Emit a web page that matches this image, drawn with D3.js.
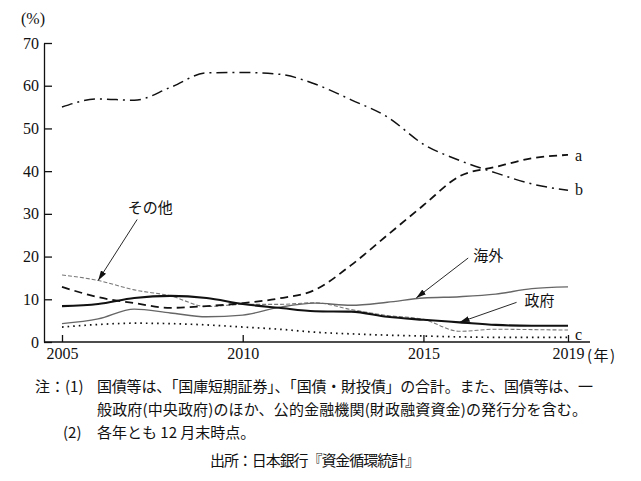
<!DOCTYPE html>
<html lang="ja">
<head>
<meta charset="UTF-8">
<title>国債等の保有者別構成比</title>
<script src="https://d3js.org/d3.v7.min.js"></script>
<style>
  body { margin: 0; background: #fff; }
  .num { font-family: "Liberation Serif", "DejaVu Serif", serif; font-size: 16px; fill: #111; }
  .jp { font-family: "Noto Sans CJK JP", sans-serif; font-size: 15px; fill: #111; }
  .axis path, .axis line { stroke: #111; stroke-width: 1.3; }
</style>
</head>
<body>
<script>

// data (% share)
var years   = [2005, 2006, 2007, 2008, 2009, 2010, 2011, 2012, 2013, 2014, 2015, 2016, 2017, 2018, 2019];
var seriesA = [12.9, 10.5, 9.1, 8.0, 8.4, 9.1, 10.2, 12.2, 18.0, 25.0, 32.0, 38.8, 41.0, 43.0, 43.8];
var seriesB = [55.0, 56.9, 56.6, 59.6, 63.0, 63.1, 62.7, 60.4, 56.7, 52.7, 46.3, 42.5, 39.6, 37.0, 35.5];
var seriesC = [3.5, 4.1, 4.4, 4.3, 4.0, 3.5, 3.0, 2.3, 1.9, 1.6, 1.4, 1.2, 1.1, 1.1, 1.1];
var kaigai  = [4.3, 5.4, 7.7, 6.8, 5.9, 6.3, 8.1, 9.1, 8.6, 9.3, 10.3, 10.6, 11.2, 12.5, 12.9];
var seifu   = [8.4, 8.9, 10.3, 10.8, 10.3, 8.9, 8.0, 7.2, 7.1, 5.9, 5.2, 4.6, 4.0, 3.8, 3.8];
var sonota  = [15.7, 14.4, 12.2, 10.8, 8.3, 8.8, 8.8, 9.2, 7.6, 6.2, 5.3, 2.5, 3.0, 2.9, 2.8];

var yTicks = [0, 10, 20, 30, 40, 50, 60, 70];
var xTicks = [2005, 2010, 2015, 2019];

var notes = [
    {mark: "注：(1)", text: "国債等は、「国庫短期証券」、「国債・財投債」の合計。また、国債等は、一", len: 496},
    {mark: "", text: "般政府(中央政府)のほか、公的金融機関(財政融資資金)の発行分を含む。", len: 490},
    {mark: "(2)", text: "各年とも 12 月末時点。", len: null}
];
var source = "出所：日本銀行『資金循環統計』";

var w = 641, h = 481;
var svg = d3.select('body')
            .append('svg')
            .attr('width', w)
            .attr('height', h)

svg.append('defs').append('marker')
    .attr('id', 'arrow')
    .attr('viewBox', '0 0 10 6')
    .attr('refX', 10)
    .attr('refY', 3)
    .attr('markerWidth', 10)
    .attr('markerHeight', 6)
    .attr('markerUnits', 'userSpaceOnUse')
    .attr('orient', 'auto')
    .append('path')
    .attr('d', 'M0,0 L10,3 L0,6 Z')
    .attr('fill', '#111')

var xScale = d3.scaleLinear().domain([2005, 2019]).range([62, 568]);
var yScale = d3.scaleLinear().domain([0, 70]).range([342, 43]);
var left = 44;

//axes
var yAxis = d3.axisLeft(yScale).tickValues(yTicks).tickSizeInner(-8).tickSizeOuter(0).tickPadding(5);
var gy = svg.append('g').attr('class', 'axis').attr('transform', 'translate(' + left + ',0)').call(yAxis);
gy.attr('font-family', null).attr('font-size', null);
gy.selectAll('text').attr('class', 'num');

var xAxis = d3.axisBottom(xScale).tickValues(xTicks).tickFormat(d3.format('d')).tickSizeInner(-7).tickSizeOuter(0).tickPadding(6);
var gx = svg.append('g').attr('class', 'axis').attr('transform', 'translate(0,' + yScale(0) + ')').call(xAxis);
gx.attr('font-family', null).attr('font-size', null);
gx.select('.domain').remove();
gx.selectAll('text').attr('class', 'num');
svg.append('line')
    .attr('x1', left).attr('x2', xScale(2019) + 22)
    .attr('y1', yScale(0)).attr('y2', yScale(0))
    .attr('stroke', '#111').attr('stroke-width', 1.3)

svg.append('text').attr('class', 'jp')
    .attr('x', xScale(2019) + 19).attr('y', yScale(0) + 19)
    .attr('letter-spacing', 1.5)
    .text('(年)')

svg.append('text').attr('class', 'num')
    .attr('x', 33).attr('y', 24)
    .attr('text-anchor', 'middle')
    .text('(%)')

//lines
var line = d3.line()
    .x((d, i) => xScale(years[i]))
    .y(d => yScale(d))
    .curve(d3.curveMonotoneX)

var series = [
    {values: sonota,  color: '#777', width: 1.1, dash: '4,2'},
    {values: kaigai,  color: '#666', width: 1.4, dash: null},
    {values: seriesC, color: '#111', width: 1.7, dash: '1.6,4'},
    {values: seifu,   color: '#111', width: 2.1, dash: null},
    {values: seriesA, color: '#111', width: 1.8, dash: '8,5'},
    {values: seriesB, color: '#111', width: 1.5, dash: '11,5,2,5'}
];

svg.selectAll('path.series')
    .data(series)
    .enter()
    .append('path')
    .attr('class', 'series')
    .attr('d', d => line(d.values))
    .attr('fill', 'none')
    .attr('stroke', d => d.color)
    .attr('stroke-width', d => d.width)
    .attr('stroke-dasharray', d => d.dash)

//end letters a b c
var ends = [
    {name: 'a', values: seriesA, dy: 1},
    {name: 'b', values: seriesB, dy: 0},
    {name: 'c', values: seriesC, dy: -2}
];
svg.selectAll('text.endlab')
    .data(ends)
    .enter()
    .append('text')
    .attr('class', 'num endlab')
    .attr('x', xScale(2019) + 7)
    .attr('y', d => yScale(d.values[d.values.length - 1]) + d.dy)
    .attr('dy', '0.32em')
    .text(d => d.name)

//arrows with labels
var notesOnChart = [
    {label: 'その他', year: 2006, value: 14.4, lx: 52, ly: -73, ax: 39, ay: -61, anchor: 'middle'},
    {label: '海外', year: 2014.8, value: 10.3, lx: 57, ly: -43, ax: 52, ay: -40, anchor: 'start'},
    {label: '政府', year: 2016, value: 4.6, lx: 65, ly: -22, ax: 57, ay: -20, anchor: 'start'}
];

notesOnChart.forEach(function (n) {
    var px = xScale(n.year), py = yScale(n.value);
    svg.append('line')
        .attr('x1', px + n.ax).attr('y1', py + n.ay)
        .attr('x2', px).attr('y2', py)
        .attr('stroke', '#111').attr('stroke-width', 0.9)
        .attr('marker-end', 'url(#arrow)')
    svg.append('text').attr('class', 'jp')
        .attr('x', px + n.lx).attr('y', py + n.ly)
        .attr('dy', '0.38em')
        .attr('text-anchor', n.anchor)
        .text(n.label)
})

//notes under the chart
var noteY = [392, 415, 438];
notes.forEach(function (n, i) {
    if (n.mark) {
        svg.append('text').attr('class', 'jp')
            .attr('x', i == 0 ? 35 : 63).attr('y', noteY[i])
            .text(n.mark)
    }
    var t = svg.append('text').attr('class', 'jp')
        .attr('x', 97).attr('y', noteY[i])
        .text(n.text)
    if (n.len) t.attr('textLength', n.len).attr('lengthAdjust', 'spacing')
})

svg.append('text').attr('class', 'jp')
    .attr('x', 210).attr('y', 466)
    .attr('textLength', 210).attr('lengthAdjust', 'spacing')
    .text(source)

</script>
</body>
</html>
